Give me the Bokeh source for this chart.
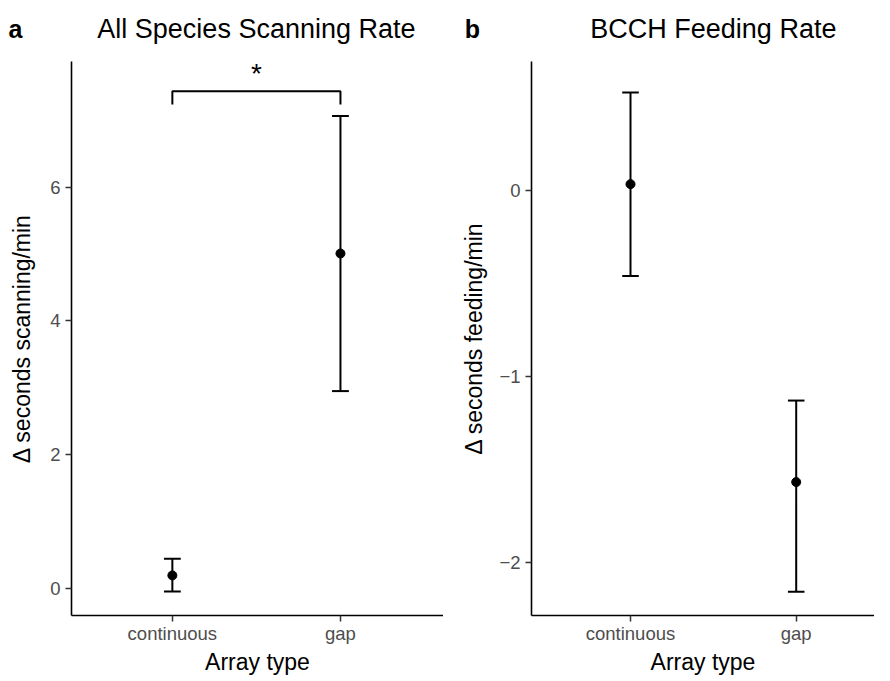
from bokeh.plotting import figure
from bokeh.layouts import row, column
from bokeh.models import Range1d, FixedTicker, Label
from bokeh.core.properties import value
from bokeh.embed import file_html
from bokeh.resources import INLINE

# ---------------- data ----------------
categories = ["continuous", "gap"]
cat_pos = [1, 2]

scan_mean = [0.19, 5.01]
scan_lower = [-0.05, 2.95]
scan_upper = [0.44, 7.07]

feed_mean = [0.035, -1.566]
feed_lower = [-0.459, -2.155]
feed_upper = [0.528, -1.128]

scan_ticks = [0, 2, 4, 6]
feed_ticks = [-2, -1, 0]

sig_pair = [1, 2]
sig_level = 7.44
sig_drop = 7.24
sig_text = "*"

FONT = "Liberation Sans"
CAP = 0.05
FRAME_H = 554
HEAD_H = 50


def make_panel(ylabel, means, lows, ups, yticks, yrange, xrange,
               frame_w, border_left, ylab_standoff):
    p = figure(output_backend="svg", toolbar_location=None,
               frame_width=frame_w, frame_height=FRAME_H,
               x_range=Range1d(*xrange), y_range=Range1d(*yrange),
               min_border_left=border_left, min_border_right=0,
               min_border_top=11, min_border_bottom=0, title=None)
    p.outline_line_color = None
    p.grid.visible = False
    p.background_fill_color = "white"
    p.border_fill_alpha = 0

    for ax in (p.xaxis[0], p.yaxis[0]):
        ax.axis_line_color = "black"
        ax.axis_line_width = 1.6
        ax.major_tick_line_color = "#333333"
        ax.major_tick_line_width = 1.5
        ax.major_tick_out = 6
        ax.major_tick_in = 0
        ax.minor_tick_line_color = None
        ax.major_label_text_font = FONT
        ax.major_label_text_font_size = "18.5px"
        ax.major_label_text_color = "#4D4D4D"
        ax.axis_label_text_font = FONT
        ax.axis_label_text_font_size = "23px"
        ax.axis_label_text_font_style = "normal"
        ax.axis_label_text_color = "black"

    p.xaxis.ticker = FixedTicker(ticks=cat_pos)
    p.xaxis.major_label_overrides = {pos: c for pos, c in zip(cat_pos, categories)}
    p.xaxis.axis_label = "Array type"
    p.xaxis.major_label_standoff = 1
    p.xaxis.axis_label_standoff = 2

    p.yaxis.ticker = FixedTicker(ticks=yticks)
    p.yaxis.axis_label = ylabel
    p.yaxis.major_label_standoff = 5
    p.yaxis.axis_label_standoff = ylab_standoff

    # error bars
    p.segment(x0=cat_pos, y0=lows, x1=cat_pos, y1=ups,
              line_color="black", line_width=2)
    p.segment(x0=[x - CAP for x in cat_pos], y0=ups,
              x1=[x + CAP for x in cat_pos], y1=ups,
              line_color="black", line_width=2)
    p.segment(x0=[x - CAP for x in cat_pos], y0=lows,
              x1=[x + CAP for x in cat_pos], y1=lows,
              line_color="black", line_width=2)
    p.scatter(x=cat_pos, y=means, size=9, color="black")
    return p


def make_header(title, letter, width, border_left, frame_w, xrange, letter_px):
    h = figure(output_backend="svg", toolbar_location=None, title=None,
               width=width, height=HEAD_H,
               x_range=Range1d(0, width), y_range=Range1d(0, HEAD_H),
               x_axis_location=None, y_axis_location=None,
               min_border=0)
    h.grid.visible = False
    h.outline_line_color = None
    h.background_fill_alpha = 0
    h.border_fill_alpha = 0
    # centre of the title over the data position 1.5
    title_px = border_left + frame_w * (1.5 - xrange[0]) / (xrange[1] - xrange[0])
    h.text(x=[title_px], y=[22], text=[title], text_font=value(FONT),
           text_font_size="27px", text_align="center",
           text_baseline="alphabetic", text_color="black")
    h.text(x=[letter_px], y=[22], text=[letter], text_font=value(FONT),
           text_font_size="25px", text_font_style="bold", text_align="center",
           text_baseline="alphabetic", text_color="black")
    return h


XA = (0.4, 2.613)
XB = (0.4025, 2.4725)

pa = make_panel("\u0394 seconds scanning/min", scan_mean, scan_lower, scan_upper,
                scan_ticks, (-0.41, 7.885), XA, 372, 71, 12)
pa.line(x=[sig_pair[0], sig_pair[0], sig_pair[1], sig_pair[1]],
        y=[sig_drop, sig_level, sig_level, sig_drop],
        line_color="black", line_width=2)
pa.add_layout(Label(x=sum(sig_pair) / 2, y=7.71, text=sig_text,
                    text_font=FONT, text_font_size="28px",
                    text_align="center", text_baseline="middle",
                    text_color="black"))

pb = make_panel("\u0394 seconds feeding/min", feed_mean, feed_lower, feed_upper,
                feed_ticks, (-2.283, 0.694), XB, 343, 88, 9)

ha = make_header("All Species Scanning Rate", "a", 443, 71, 372, XA, 15)
hb = make_header("BCCH Feeding Rate", "b", 431, 88, 343, XB, 29)

layout = column(row(ha, hb), row(pa, pb))
open("out.html", "w").write(file_html(layout, INLINE))
